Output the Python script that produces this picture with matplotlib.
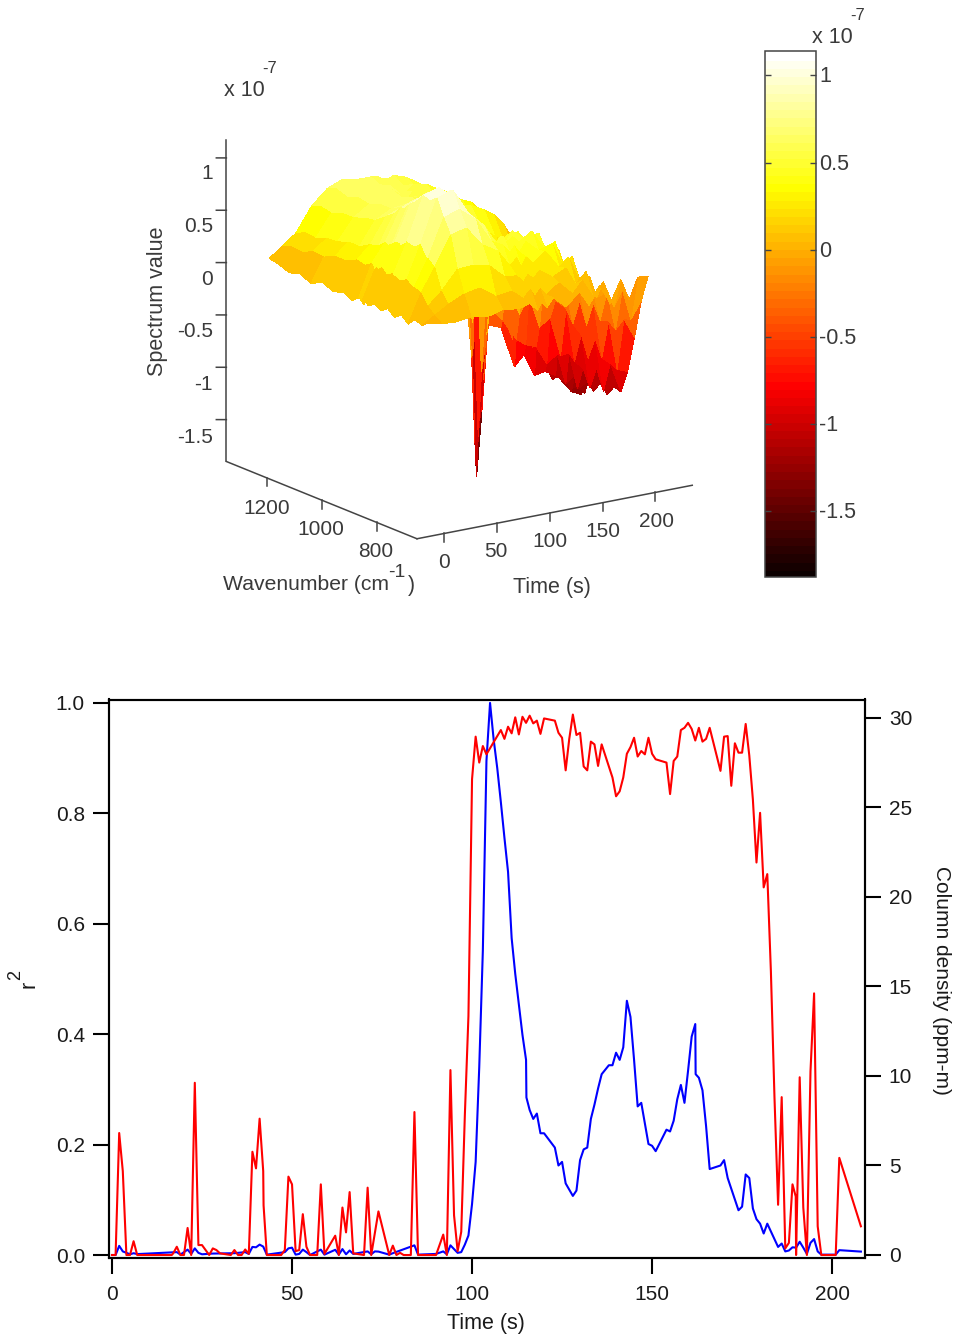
import numpy as np
import matplotlib
matplotlib.use("Agg")
import matplotlib.pyplot as plt
from matplotlib.colors import Normalize
from matplotlib.cm import ScalarMappable

plt.rcParams['font.family'] = ['Liberation Sans', 'DejaVu Sans']

W_PX, H_PX = 955, 1336

# spectrum surface, units of 1e-7
surf_time = [0, 12, 25, 40, 55, 70, 85, 96, 103, 107, 112, 118, 130, 143, 152, 162, 172, 182, 190, 198, 208]
surf_wave = [710, 735, 760, 785, 810, 835, 860, 885, 910, 930, 942, 948, 954, 966, 990, 1020, 1060, 1100, 1140, 1180, 1220, 1260, 1293]
surf_z = [
    [.05, .0, .03, -.04, .02, -.03, .03, -.02, .02, -.02, .01, -.03, .0, .02, -.03, .01, -.02, .03, -.03, .02, -.01, .03, .05],
    [.02, .07, .13, .23, .26, .32, .28, .31, .28, .32, .29, .3, .28, .32, .28, .3, .25, .25, .2, .21, .16, .17, .14],
    [.01, .15, .25, .45, .51, .63, .58, .6, .54, .54, .5, .5, .48, .5, .44, .42, .36, .36, .32, .31, .27, .28, .24],
    [.03, .22, .43, .73, .87, 1.03, .98, 1.0, .92, .88, .84, .82, .8, .8, .72, .66, .58, .56, .52, .52, .48, .5, .47],
    [.0, .25, .44, .77, .92, 1.08, 1.03, 1.05, .98, .95, .9, .88, .86, .86, .78, .72, .66, .66, .62, .64, .6, .64, .61],
    [.04, .14, .41, .58, .8, .83, .88, .83, .85, .78, .78, .74, .76, .72, .72, .66, .68, .62, .66, .62, .66, .64, .67],
    [.02, .16, .27, .49, .56, .68, .62, .67, .63, .67, .64, .65, .63, .67, .62, .67, .63, .67, .63, .67, .63, .66, .64],
    [.05, .07, .26, .33, .5, .49, .55, .49, .53, .47, .5, .45, .5, .48, .54, .51, .57, .54, .6, .58, .63, .6, .64],
    [-.03, .14, .19, .39, .41, .54, .46, .49, .28, .04, -.3, -.4, -.22, -.04, .36, .44, .57, .52, .6, .55, .62, .59, .63],
    [.04, .06, .25, .3, .47, .44, .51, .32, .05, -.86, -1.49, -1.88, -1.57, -.76, -.05, .44, .47, .57, .51, .6, .55, .62, .6],
    [-.02, .13, .2, .38, .4, .52, .44, .43, .17, -.52, -.96, -1.27, -1.04, -.43, .09, .45, .47, .57, .51, .6, .55, .61, .59],
    [.06, .06, .27, .31, .49, .46, .54, .45, .38, .02, -.28, -.45, -.26, .0, .4, .46, .56, .5, .58, .53, .6, .55, .61],
    [-.05, .15, .18, .4, .38, .54, .43, .48, .23, 0, -.42, -.5, -.28, -.12, .33, .38, .55, .46, .57, .48, .58, .5, .57],
    [.07, .02, .24, .22, .42, .33, .47, .27, .2, -.38, -.63, -.9, -.65, -.38, .2, .27, .48, .35, .49, .36, .5, .38, .48],
    [-.08, .13, .07, .3, .22, .4, .24, .34, .03, -.22, -.7, -.8, -.56, -.38, .18, .18, .42, .24, .45, .26, .46, .27, .44],
    [.09, -.04, .17, .06, .26, .1, .28, .05, .04, -.54, -.74, -1.02, -.76, -.54, .04, .04, .3, .12, .33, .13, .35, .14, .35],
    [-.1, .08, -.1, .08, -.08, .08, -.1, .02, -.28, -.47, -.92, -1.0, -.78, -.63, -.12, -.14, .12, -.08, .15, -.05, .18, -.03, .18],
    [.11, -.18, -.06, -.36, -.22, -.46, -.25, -.5, -.38, -.85, -.85, -1.06, -1.05, -.63, -.58, -.26, -.4, -.15, -.36, -.1, -.3, -.05, -.25],
    [-.1, -.03, -.44, -.38, -.76, -.6, -.82, -.62, -.9, -.84, -1.15, -1.13, -.97, -1.05, -.68, -.8, -.5, -.7, -.45, -.6, -.35, -.52, -.3],
    [.1, -.33, -.35, -.86, -.83, -1.12, -.93, -1.14, -.98, -1.2, -1.08, -1.2, -1.25, -1.03, -1.18, -.89, -1.04, -.75, -.9, -.62, -.78, -.52, -.7],
    [.09, -.17, -.55, -.9, -1.12, -1.1, -1.2, -1.12, -1.22, -1.15, -1.28, -1.25, -1.3, -1.2, -1.3, -1.15, -1.27, -1.0, -1.17, -.85, -1.0, -.74, -.88],
]

z_ticks = [1, 0.5, 0, -0.5, -1, -1.5]
z_labels = ['1', '0.5', '0', '-0.5', '-1', '-1.5']
wave_ticks = [1200, 1000, 800]
time_ticks_3d = [0, 50, 100, 150, 200]

# r squared trace
r2_time = [0, 1, 2, 3, 4, 5, 6, 7, 16.6, 17, 18, 19, 20, 21, 22, 23, 24, 25, 26, 27, 28, 29, 30, 33, 34, 35, 36, 37, 38,
           39, 40, 41, 42, 42.1, 43, 47, 48, 49, 50, 51, 52, 53, 54, 55, 57, 58, 59, 62, 63, 64, 65, 66, 67, 68, 70,
           71, 72, 74, 77, 78, 79, 80, 81, 83, 84, 85, 90, 92, 93, 94, 95, 96, 97, 98, 99, 100, 101, 102, 103, 104,
           108, 109, 110, 111, 112, 113, 114, 115, 116, 117, 118, 119, 120, 123, 124, 125, 126, 127, 128, 129, 130,
           131, 132, 133, 134, 135, 136, 139, 140, 141, 142, 143, 144, 145, 146, 147, 148, 149, 150, 151, 154, 155,
           156, 157, 158, 159, 160, 161, 162, 163, 164, 165, 166, 169, 170, 171, 172, 173, 174, 175, 176, 177, 178,
           179, 180, 181, 182, 183, 184, 185, 186, 187, 188, 189, 189.9, 190, 191, 192, 193, 194, 195, 196, 197, 201,
           202, 208]
r2_vals = [0, 0, .221, .152, 0, 0, .025, 0, 0, .003, .015, 0, 0, .049, 0, .312, .018, .018, .009, 0, .012, .009, .003, 0,
           .009, 0, 0, .01, .002, .187, .157, .247, .152, .09, 0, 0, .009, .142, .128, .007, .009, .074, .015, 0, 0,
           .128, .002, .035, 0, .086, .041, .114, .003, .002, 0, .122, 0, .079, 0, .017, 0, .004, 0, 0, .259, 0, 0,
           .037, 0, .335, .072, .007, .042, .253, .433, .862, .939, .892, .922, .907, .951, .935, .957, .945, .974,
           .943, .975, .964, .977, .963, .968, .944, .972, .968, .946, .937, .878, .935, .979, .942, .946, .885, .878,
           .93, .925, .886, .925, .865, .831, .84, .865, .908, .92, .937, .903, .913, .907, .937, .908, .898, .892,
           .835, .895, .903, .951, .955, .964, .953, .932, .955, .93, .935, .955, .877, .939, .94, .85, .927, .91, .91,
           .962, .905, .825, .711, .801, .666, .69, .514, .285, .091, .286, .012, .022, .128, .106, 0, .322, .086, 0,
           .333, .474, .052, 0, 0, .176, .052]

# column density trace
cd_time = [0, 1, 2, 3, 4, 5, 6, 7, 18, 19, 21, 22, 23, 24, 25, 28, 34, 37, 38, 39, 40, 41, 42, 43, 48, 49, 50, 51, 52, 53,
           54, 55, 58, 59, 62, 63, 64, 65, 66, 67, 71, 72, 73, 74, 77, 78, 84, 85, 90, 92, 93, 94, 95, 96, 97, 98, 99,
           100, 101, 102, 103, 104, 105, 106, 107, 108, 109, 110, 111, 112, 113, 114, 115, 115.1, 116, 117, 118, 119,
           120, 123, 124, 125, 126, 128, 129, 130, 131, 132, 133, 134, 135, 136, 138, 139, 140, 141, 142, 143, 144,
           145, 146, 147, 149, 150, 151, 154, 155, 156, 157, 158, 159, 160, 161, 162, 162.1, 163, 164, 165, 166, 169,
           170, 171, 174, 175, 176, 177, 178, 179, 180, 181, 182, 185, 186, 187, 188, 189, 190, 191, 192, 193, 194,
           195, 196, 197, 201, 202, 208]
cd_vals = [0, 0, .51, .2, .12, .04, .1, .05, .16, .02, .3, .06, .37, .12, .04, .08, .1, .16, .06, .45, .43, .58, .47, .02,
           .16, .37, .41, .02, .06, .3, .16, 0, .3, .02, .29, .02, .33, .04, .25, .06, .2, .04, .2, .19, .02, .1, .54,
           .02, .06, .2, .04, .54, .33, .12, .16, .58, 1.09, 2.85, 5.2, 10.5, 17, 27.6, 30.84, 28.8, 27.2, 25.3, 23.3,
           21.4, 17.7, 15.7, 14.0, 12.3, 10.9, 8.8, 8.1, 7.6, 7.9, 6.8, 6.8, 6.0, 5.0, 5.2, 4.0, 3.3, 3.6, 5.3, 5.9,
           6.0, 7.6, 8.4, 9.3, 10.1, 10.6, 10.6, 11.3, 10.9, 11.6, 14.2, 13.3, 10.9, 8.3, 8.5, 6.2, 6.1, 5.8, 7.0, 6.9,
           7.5, 8.7, 9.5, 8.5, 10.3, 12.2, 12.9, 10.1, 9.9, 9.2, 7.2, 4.8, 5.0, 5.3, 4.3, 2.5, 2.7, 4.5, 4.3, 2.6, 2.0,
           1.75, 1.2, 1.75, .45, .64, .2, .25, .43, .41, .74, .41, .06, .68, .89, .2, .02, .02, .27, .19]

left_ticks = [0.0, 0.2, 0.4, 0.6, 0.8, 1.0]
right_ticks = [0, 5, 10, 15, 20, 25, 30]
bottom_ticks = [0, 50, 100, 150, 200]

Z_LIM = (-1.9, 1.17)
C_LIM = (-1.878, 1.143)
T_LIM = (-26, 235)
WN_LIM = (653, 1350)
TEXT_GREY = '#3a3a3a'
LINE_GREY = '#444444'
hot64 = plt.get_cmap('hot', 64)


def put(x, y, s, **kw):
    # place text by pixel position of the picture
    kw.setdefault('ha', 'center')
    kw.setdefault('va', 'center')
    kw.setdefault('fontsize', 15.5)
    fig.text(x / W_PX, 1 - (y + 1.5) / H_PX, s, **kw)


def add_axes_px(left, top, right, bottom, **kw):
    return fig.add_axes([left / W_PX, 1 - bottom / H_PX, (right - left) / W_PX, (bottom - top) / H_PX], **kw)


fig = plt.figure(figsize=(W_PX / 100, H_PX / 100), dpi=100, facecolor='white')

#
# surface panel
#
ax3d = add_axes_px(170.2, 38.8, 733.2, 601.8, projection='3d', proj_type='ortho')
ax3d.set_box_aspect((1, 1, 1))
ax3d.view_init(elev=16.3, azim=-124.7)
ax3d.set_xlim(*T_LIM, view_margin=0)
ax3d.set_ylim(*WN_LIM, view_margin=0)
ax3d.set_zlim(*Z_LIM, view_margin=0)
ax3d.set_axis_off()
ax3d.patch.set_alpha(0)

T, WN = np.meshgrid(surf_time, surf_wave, indexing='ij')
ax3d.plot_surface(T, WN, np.array(surf_z), rstride=1, cstride=1, cmap=hot64,
                  vmin=C_LIM[0], vmax=C_LIM[1], shade=False, linewidth=0, antialiased=False)

t0, t1 = T_LIM
w0, w1 = WN_LIM
z0, z1 = Z_LIM
axis_kw = dict(color=LINE_GREY, lw=1.1, zorder=10)
ax3d.plot([t0, t1], [w0, w0], [z0, z0], **axis_kw)
ax3d.plot([t0, t0], [w0, w1], [z0, z0], **axis_kw)
ax3d.plot([t0, t0], [w1, w1], [z0, z1], **axis_kw)
for t in time_ticks_3d:
    ax3d.plot([t, t], [w0, w0], [z0, z0 - 0.08], **axis_kw)
for w in wave_ticks:
    ax3d.plot([t0, t0], [w, w], [z0, z0 - 0.08], **axis_kw)
for z in z_ticks:
    # this direction runs level on screen for the chosen view
    ax3d.plot([t0, t0 - 6.4], [w1, w1 + 12], [z, z], **axis_kw)

for y, s in zip([172, 225, 278, 330, 383, 436], z_labels):
    put(213, y, s, ha='right', color=TEXT_GREY, fontsize=15)
for x, y, s in zip([267, 321, 376], [507, 528, 550], wave_ticks):
    put(x, y, str(s), color=TEXT_GREY, fontsize=15)
for x, y, s in zip([444, 496, 550, 603, 656], [561, 550, 540, 530, 520], time_ticks_3d):
    put(x, y, str(s), color=TEXT_GREY, fontsize=15)

put(157, 300, 'Spectrum value', rotation=90, color=TEXT_GREY)
put(223, 583, 'Wavenumber (cm', ha='left', color=TEXT_GREY, fontsize=15.2)
put(397, 571, '-1', color=TEXT_GREY, fontsize=14)
put(411, 584, ')', color=TEXT_GREY)
put(552, 586, 'Time (s)', color=TEXT_GREY)
put(244, 89, 'x 10', color=TEXT_GREY)
put(270, 67, '-7', color=TEXT_GREY, fontsize=12)

#
# colour bar
#
cax = add_axes_px(764.5, 50.5, 815.5, 577)
cb = fig.colorbar(ScalarMappable(norm=Normalize(*C_LIM), cmap=hot64), cax=cax)
cb.set_ticks(z_ticks)
cb.set_ticklabels([])
cb.outline.set_edgecolor(LINE_GREY)
cb.outline.set_linewidth(1.1)
cb.solids.set_edgecolor('face')
cax.tick_params(axis='y', which='major', direction='in', left=True, right=True, length=4, width=1, color=LINE_GREY)
cax.minorticks_off()
for y, s in zip([75, 163, 250, 337, 424, 511], z_labels):
    put(819, y, s, ha='left', color=TEXT_GREY)
put(832, 36, 'x 10', color=TEXT_GREY)
put(858, 14, '-7', color=TEXT_GREY, fontsize=12)

#
# time series panel
#
ax = add_axes_px(108.5, 699.5, 864.5, 1257.5)
ax2 = ax.twinx()
ax.set_zorder(ax2.get_zorder() + 1)
ax.patch.set_visible(False)

ax2.plot(cd_time, cd_vals, color='#0000ff', lw=1.5)
ax.plot(r2_time, r2_vals, color='#ff0000', lw=1.5)

ax.set_xlim(-0.97, 209)
ax.set_ylim(-0.0045, 1.0063)
ax2.set_ylim(-0.14, 31.03)
ax.set_xticks(bottom_ticks)
ax.set_yticks(left_ticks)
ax.set_yticklabels([f'{v:.1f}' for v in left_ticks])
ax2.set_yticks(right_ticks)

ax.tick_params(axis='x', length=11.5, width=1.5, pad=8, labelsize=15, color='black', labelcolor='#1a1a1a')
ax.tick_params(axis='y', length=11.5, width=1.5, pad=5.5, labelsize=15, color='black', labelcolor='#1a1a1a')
ax2.tick_params(axis='y', length=11.5, width=1.5, pad=6, labelsize=15, color='black', labelcolor='#1a1a1a')
for axis in (ax, ax2):
    for sp in axis.spines.values():
        sp.set_linewidth(1.5)

put(486, 1322, 'Time (s)', color='#1a1a1a')
put(29, 983, 'r', rotation=90, color='#1a1a1a')
put(16, 973, '2', rotation=90, color='#1a1a1a', fontsize=13)
put(941, 979, 'Column density (ppm-m)', rotation=270, color='#1a1a1a', fontsize=15)

fig.savefig('out.png', dpi=100)
